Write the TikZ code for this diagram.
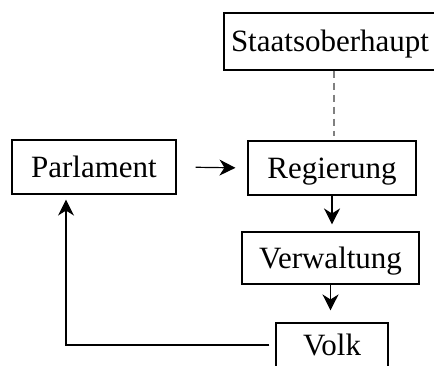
\documentclass[tikz,border=0pt]{standalone}
\usepackage{fontspec}
\setmainfont{Liberation Serif}
\usepackage{tikz}
\usetikzlibrary{arrows.meta,positioning}
\definecolor{SVgray}{RGB}{128,128,128}
\tikzset{
  box/.style={draw=black,line width=1.1pt,fill=white,inner sep=0pt,
              font=\fontsize{31}{37}\selectfont,text height=20pt,text depth=0pt},
  fl/.style={-{Stealth[length=16pt,width=16pt,inset=5pt]},line width=1.2pt,draw=black},
  fd/.style={line width=1.1pt,draw=SVgray,dash pattern=on 7pt off 5pt}
}
\begin{document}
\begin{tikzpicture}[x=1pt,y=-1pt]
  \useasboundingbox (0,0) rectangle (434,365);
  \node[box,minimum width=212pt,minimum height=57pt] (staat) at (330,41.5) {Staatsoberhaupt};
  \node[box,minimum width=164pt,minimum height=54pt] (parl) at (94,167) {Parlament};
  \node[box,minimum width=168pt,minimum height=54pt] (reg) at (332,168) {Regierung};
  \node[box,minimum width=177pt,minimum height=52pt] (verw) at (330.5,258) {Verwaltung};
  \node[box,minimum width=112pt,minimum height=44pt] (volk) at (332,345) {Volk};
  \draw[fd,shorten >=4pt] ([xshift=2pt]staat.south -| reg.north) -- ([xshift=2pt]reg.north);
  \draw[fl,shorten <=19pt,shorten >=12pt] (parl.east) -- (reg.west);
  \draw[fl,shorten >=7pt] (reg.south) -- (reg.south |- verw.north);
  \draw[fl,shorten >=12pt] (verw.south) -- (verw.south |- volk.north);
  \draw[fl,shorten <=6pt,shorten >=5pt] (volk.west) -| ([xshift=-28pt]parl.south);
\end{tikzpicture}
\end{document}
